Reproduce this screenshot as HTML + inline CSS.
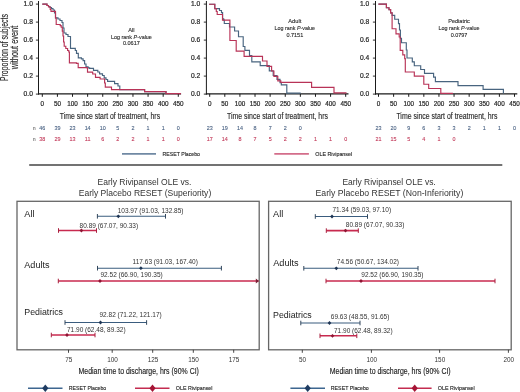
<!DOCTYPE html>
<html><head><meta charset="utf-8"><style>
html,body{margin:0;padding:0;background:#fff;}
svg{display:block;font-family:"Liberation Sans", sans-serif;filter:blur(0.3px);}
.b{stroke:#2a2a2a;stroke-width:0.22px;}
</style></head><body>
<svg width="520" height="392" viewBox="0 0 520 392">
<rect width="520" height="392" fill="#fff"/>
<line x1="38.5" y1="1" x2="38.5" y2="94.6" stroke="#1a1a1a" stroke-width="1"/>
<line x1="35.9" y1="4.1" x2="38.5" y2="4.1" stroke="#1a1a1a" stroke-width="0.9"/>
<text x="32.9" y="6.1" font-size="6.7" text-anchor="end" fill="#2a2a2a" class="b">1.0</text>
<line x1="35.9" y1="22.1" x2="38.5" y2="22.1" stroke="#1a1a1a" stroke-width="0.9"/>
<text x="32.9" y="24.1" font-size="6.7" text-anchor="end" fill="#2a2a2a" class="b">0.8</text>
<line x1="35.9" y1="40.1" x2="38.5" y2="40.1" stroke="#1a1a1a" stroke-width="0.9"/>
<text x="32.9" y="42.1" font-size="6.7" text-anchor="end" fill="#2a2a2a" class="b">0.6</text>
<line x1="35.9" y1="58.1" x2="38.5" y2="58.1" stroke="#1a1a1a" stroke-width="0.9"/>
<text x="32.9" y="60.1" font-size="6.7" text-anchor="end" fill="#2a2a2a" class="b">0.4</text>
<line x1="35.9" y1="76.1" x2="38.5" y2="76.1" stroke="#1a1a1a" stroke-width="0.9"/>
<text x="32.9" y="78.1" font-size="6.7" text-anchor="end" fill="#2a2a2a" class="b">0.2</text>
<line x1="35.9" y1="94.1" x2="38.5" y2="94.1" stroke="#1a1a1a" stroke-width="0.9"/>
<text x="32.9" y="96.1" font-size="6.7" text-anchor="end" fill="#2a2a2a" class="b">0.0</text>
<line x1="38.0" y1="93.9" x2="181.09000000000003" y2="93.9" stroke="#1a1a1a" stroke-width="1.2"/>
<line x1="42.3" y1="93.9" x2="42.3" y2="96.8" stroke="#1a1a1a" stroke-width="1"/>
<text x="42.3" y="105.6" font-size="6.9" text-anchor="middle" textLength="3.53" lengthAdjust="spacingAndGlyphs" fill="#2a2a2a" class="b">0</text>
<line x1="57.41" y1="93.9" x2="57.41" y2="96.8" stroke="#1a1a1a" stroke-width="1"/>
<text x="57.41" y="105.6" font-size="6.9" text-anchor="middle" textLength="7.06" lengthAdjust="spacingAndGlyphs" fill="#2a2a2a" class="b">50</text>
<line x1="72.52" y1="93.9" x2="72.52" y2="96.8" stroke="#1a1a1a" stroke-width="1"/>
<text x="72.52" y="105.6" font-size="6.9" text-anchor="middle" textLength="10.59" lengthAdjust="spacingAndGlyphs" fill="#2a2a2a" class="b">100</text>
<line x1="87.63" y1="93.9" x2="87.63" y2="96.8" stroke="#1a1a1a" stroke-width="1"/>
<text x="87.63" y="105.6" font-size="6.9" text-anchor="middle" textLength="10.59" lengthAdjust="spacingAndGlyphs" fill="#2a2a2a" class="b">150</text>
<line x1="102.74" y1="93.9" x2="102.74" y2="96.8" stroke="#1a1a1a" stroke-width="1"/>
<text x="102.74" y="105.6" font-size="6.9" text-anchor="middle" textLength="10.59" lengthAdjust="spacingAndGlyphs" fill="#2a2a2a" class="b">200</text>
<line x1="117.85" y1="93.9" x2="117.85" y2="96.8" stroke="#1a1a1a" stroke-width="1"/>
<text x="117.85" y="105.6" font-size="6.9" text-anchor="middle" textLength="10.59" lengthAdjust="spacingAndGlyphs" fill="#2a2a2a" class="b">250</text>
<line x1="132.96" y1="93.9" x2="132.96" y2="96.8" stroke="#1a1a1a" stroke-width="1"/>
<text x="132.96" y="105.6" font-size="6.9" text-anchor="middle" textLength="10.59" lengthAdjust="spacingAndGlyphs" fill="#2a2a2a" class="b">300</text>
<line x1="148.07" y1="93.9" x2="148.07" y2="96.8" stroke="#1a1a1a" stroke-width="1"/>
<text x="148.07" y="105.6" font-size="6.9" text-anchor="middle" textLength="10.59" lengthAdjust="spacingAndGlyphs" fill="#2a2a2a" class="b">350</text>
<line x1="163.18" y1="93.9" x2="163.18" y2="96.8" stroke="#1a1a1a" stroke-width="1"/>
<text x="163.18" y="105.6" font-size="6.9" text-anchor="middle" textLength="10.59" lengthAdjust="spacingAndGlyphs" fill="#2a2a2a" class="b">400</text>
<line x1="178.29" y1="93.9" x2="178.29" y2="96.8" stroke="#1a1a1a" stroke-width="1"/>
<text x="178.29" y="105.6" font-size="6.9" text-anchor="middle" textLength="10.59" lengthAdjust="spacingAndGlyphs" fill="#2a2a2a" class="b">450</text>
<text x="59.8" y="118.5" font-size="9.4" textLength="100.3" lengthAdjust="spacingAndGlyphs" fill="#2a2a2a" stroke="#2a2a2a" stroke-width="0.15">Time since start of treatment, hrs</text>
<text transform="translate(8.1,47.6) rotate(-90)" font-size="10.3" text-anchor="middle" fill="#2a2a2a" stroke="#2a2a2a" stroke-width="0.15" textLength="67" lengthAdjust="spacingAndGlyphs">Proportion of subjects</text>
<text transform="translate(18.3,47.5) rotate(-90)" font-size="10.3" text-anchor="middle" fill="#2a2a2a" stroke="#2a2a2a" stroke-width="0.15" textLength="43.5" lengthAdjust="spacingAndGlyphs">without event</text>
<path d="M42.3,4.1H47V5.5H48.5V6.5H50V7.5H51.5V8.5H53V10H54.5V13H55.5V17.9H58V19H60V20.5H62V22.5H63V28H64V33H66V34.5H68V36.5H70.5V48.4H75.3V50.5H76.5V53.3H78.3V57.9H81.4V58.8H83.1V60.6H84.6V64H86V66.9H88.1V67.8H89.6V68.3H93.5V70.4H97.8V72H99.6V73.8H102.5V75.5H104.2V77.9H106V79.5H107.6V81.3H114.6V83.6H118V86H119.8V89.6H144.6V91.6H166V93.6" fill="none" stroke="#48647f" stroke-width="1.15"/>
<path d="M42.3,4.1H47V5.5H48.5V7H50.2V9.5H51V11.4H55.5V18H56.2V24.5H60.2V25.6H61.2V27.2H62.3V31.1H63.0V36H63.6V42H64.2V46.2H65.8V48.5H67.6V50.5H68.8V52H69.4V62.8H76.5V63.3H78.2V67.6H87V67.9H87.5V72.1H92.7V74H95.5V77.3H100.1V79H104.6V83H105.3V87.1H111.5V89.6H144.6V91.6H166V93.6H181" fill="none" stroke="#b83357" stroke-width="1.15"/>
<text x="131.4" y="31.7" font-size="5.7" text-anchor="middle" fill="#2a2a2a" stroke="#2a2a2a" stroke-width="0.12">All</text>
<text x="131.4" y="38.5" font-size="5.7" text-anchor="middle" textLength="41" lengthAdjust="spacingAndGlyphs" fill="#2a2a2a" stroke="#2a2a2a" stroke-width="0.12">Log rank <tspan font-style="italic">P</tspan>-value</text>
<text x="131.4" y="45.3" font-size="5.7" text-anchor="middle" textLength="17" lengthAdjust="spacingAndGlyphs" fill="#2a2a2a" stroke="#2a2a2a" stroke-width="0.12">0.0617</text>
<text x="42.3" y="129.6" font-size="5.4" text-anchor="middle" fill="#465f80" stroke="#465f80" stroke-width="0.1">46</text>
<text x="57.41" y="129.6" font-size="5.4" text-anchor="middle" fill="#465f80" stroke="#465f80" stroke-width="0.1">39</text>
<text x="72.52" y="129.6" font-size="5.4" text-anchor="middle" fill="#465f80" stroke="#465f80" stroke-width="0.1">23</text>
<text x="87.63" y="129.6" font-size="5.4" text-anchor="middle" fill="#465f80" stroke="#465f80" stroke-width="0.1">14</text>
<text x="102.74" y="129.6" font-size="5.4" text-anchor="middle" fill="#465f80" stroke="#465f80" stroke-width="0.1">10</text>
<text x="117.85" y="129.6" font-size="5.4" text-anchor="middle" fill="#465f80" stroke="#465f80" stroke-width="0.1">5</text>
<text x="132.96" y="129.6" font-size="5.4" text-anchor="middle" fill="#465f80" stroke="#465f80" stroke-width="0.1">2</text>
<text x="148.07" y="129.6" font-size="5.4" text-anchor="middle" fill="#465f80" stroke="#465f80" stroke-width="0.1">1</text>
<text x="163.18" y="129.6" font-size="5.4" text-anchor="middle" fill="#465f80" stroke="#465f80" stroke-width="0.1">1</text>
<text x="178.29" y="129.6" font-size="5.4" text-anchor="middle" fill="#465f80" stroke="#465f80" stroke-width="0.1">0</text>
<text x="34.3" y="129.6" font-size="5.2" text-anchor="middle" fill="#444">n</text>
<text x="42.3" y="140.6" font-size="5.4" text-anchor="middle" fill="#c23a5a" stroke="#c23a5a" stroke-width="0.1">38</text>
<text x="57.41" y="140.6" font-size="5.4" text-anchor="middle" fill="#c23a5a" stroke="#c23a5a" stroke-width="0.1">29</text>
<text x="72.52" y="140.6" font-size="5.4" text-anchor="middle" fill="#c23a5a" stroke="#c23a5a" stroke-width="0.1">13</text>
<text x="87.63" y="140.6" font-size="5.4" text-anchor="middle" fill="#c23a5a" stroke="#c23a5a" stroke-width="0.1">11</text>
<text x="102.74" y="140.6" font-size="5.4" text-anchor="middle" fill="#c23a5a" stroke="#c23a5a" stroke-width="0.1">6</text>
<text x="117.85" y="140.6" font-size="5.4" text-anchor="middle" fill="#c23a5a" stroke="#c23a5a" stroke-width="0.1">2</text>
<text x="132.96" y="140.6" font-size="5.4" text-anchor="middle" fill="#c23a5a" stroke="#c23a5a" stroke-width="0.1">2</text>
<text x="148.07" y="140.6" font-size="5.4" text-anchor="middle" fill="#c23a5a" stroke="#c23a5a" stroke-width="0.1">1</text>
<text x="163.18" y="140.6" font-size="5.4" text-anchor="middle" fill="#c23a5a" stroke="#c23a5a" stroke-width="0.1">1</text>
<text x="178.29" y="140.6" font-size="5.4" text-anchor="middle" fill="#c23a5a" stroke="#c23a5a" stroke-width="0.1">0</text>
<text x="34.3" y="140.6" font-size="5.2" text-anchor="middle" fill="#444">n</text>
<line x1="206.4" y1="1" x2="206.4" y2="94.6" stroke="#1a1a1a" stroke-width="1"/>
<line x1="203.8" y1="4.1" x2="206.4" y2="4.1" stroke="#1a1a1a" stroke-width="0.9"/>
<text x="200.2" y="6.1" font-size="6.7" text-anchor="end" fill="#2a2a2a" class="b">1.0</text>
<line x1="203.8" y1="22.1" x2="206.4" y2="22.1" stroke="#1a1a1a" stroke-width="0.9"/>
<text x="200.2" y="24.1" font-size="6.7" text-anchor="end" fill="#2a2a2a" class="b">0.8</text>
<line x1="203.8" y1="40.1" x2="206.4" y2="40.1" stroke="#1a1a1a" stroke-width="0.9"/>
<text x="200.2" y="42.1" font-size="6.7" text-anchor="end" fill="#2a2a2a" class="b">0.6</text>
<line x1="203.8" y1="58.1" x2="206.4" y2="58.1" stroke="#1a1a1a" stroke-width="0.9"/>
<text x="200.2" y="60.1" font-size="6.7" text-anchor="end" fill="#2a2a2a" class="b">0.4</text>
<line x1="203.8" y1="76.1" x2="206.4" y2="76.1" stroke="#1a1a1a" stroke-width="0.9"/>
<text x="200.2" y="78.1" font-size="6.7" text-anchor="end" fill="#2a2a2a" class="b">0.2</text>
<line x1="203.8" y1="94.1" x2="206.4" y2="94.1" stroke="#1a1a1a" stroke-width="0.9"/>
<text x="200.2" y="96.1" font-size="6.7" text-anchor="end" fill="#2a2a2a" class="b">0.0</text>
<line x1="205.9" y1="93.9" x2="348.49" y2="93.9" stroke="#1a1a1a" stroke-width="1.2"/>
<line x1="209.7" y1="93.9" x2="209.7" y2="96.8" stroke="#1a1a1a" stroke-width="1"/>
<text x="209.7" y="105.6" font-size="6.9" text-anchor="middle" textLength="3.53" lengthAdjust="spacingAndGlyphs" fill="#2a2a2a" class="b">0</text>
<line x1="224.81" y1="93.9" x2="224.81" y2="96.8" stroke="#1a1a1a" stroke-width="1"/>
<text x="224.81" y="105.6" font-size="6.9" text-anchor="middle" textLength="7.06" lengthAdjust="spacingAndGlyphs" fill="#2a2a2a" class="b">50</text>
<line x1="239.92" y1="93.9" x2="239.92" y2="96.8" stroke="#1a1a1a" stroke-width="1"/>
<text x="239.92" y="105.6" font-size="6.9" text-anchor="middle" textLength="10.59" lengthAdjust="spacingAndGlyphs" fill="#2a2a2a" class="b">100</text>
<line x1="255.03" y1="93.9" x2="255.03" y2="96.8" stroke="#1a1a1a" stroke-width="1"/>
<text x="255.03" y="105.6" font-size="6.9" text-anchor="middle" textLength="10.59" lengthAdjust="spacingAndGlyphs" fill="#2a2a2a" class="b">150</text>
<line x1="270.14" y1="93.9" x2="270.14" y2="96.8" stroke="#1a1a1a" stroke-width="1"/>
<text x="270.14" y="105.6" font-size="6.9" text-anchor="middle" textLength="10.59" lengthAdjust="spacingAndGlyphs" fill="#2a2a2a" class="b">200</text>
<line x1="285.25" y1="93.9" x2="285.25" y2="96.8" stroke="#1a1a1a" stroke-width="1"/>
<text x="285.25" y="105.6" font-size="6.9" text-anchor="middle" textLength="10.59" lengthAdjust="spacingAndGlyphs" fill="#2a2a2a" class="b">250</text>
<line x1="300.36" y1="93.9" x2="300.36" y2="96.8" stroke="#1a1a1a" stroke-width="1"/>
<text x="300.36" y="105.6" font-size="6.9" text-anchor="middle" textLength="10.59" lengthAdjust="spacingAndGlyphs" fill="#2a2a2a" class="b">300</text>
<line x1="315.47" y1="93.9" x2="315.47" y2="96.8" stroke="#1a1a1a" stroke-width="1"/>
<text x="315.47" y="105.6" font-size="6.9" text-anchor="middle" textLength="10.59" lengthAdjust="spacingAndGlyphs" fill="#2a2a2a" class="b">350</text>
<line x1="330.58" y1="93.9" x2="330.58" y2="96.8" stroke="#1a1a1a" stroke-width="1"/>
<text x="330.58" y="105.6" font-size="6.9" text-anchor="middle" textLength="10.59" lengthAdjust="spacingAndGlyphs" fill="#2a2a2a" class="b">400</text>
<line x1="345.69" y1="93.9" x2="345.69" y2="96.8" stroke="#1a1a1a" stroke-width="1"/>
<text x="345.69" y="105.6" font-size="6.9" text-anchor="middle" textLength="10.59" lengthAdjust="spacingAndGlyphs" fill="#2a2a2a" class="b">450</text>
<text x="227" y="118.5" font-size="9.4" textLength="101" lengthAdjust="spacingAndGlyphs" fill="#2a2a2a" stroke="#2a2a2a" stroke-width="0.15">Time since start of treatment, hrs</text>
<path d="M209.1,4.2H214.8V8.6H219.5V10.5H221.5V12.6H222.6V18.9H223.7V20.1H224.3V23.5H229.5V27H234.6V31H238.5V36.7H243.2V46.5H244.9V50.3H249.5V55.6H251.8V61.8H260.2V65.6H269.3V70.9H273.2V75.5H277V79.3H280V82.6H281.3V84.8H286.8V93.1H300.7" fill="none" stroke="#48647f" stroke-width="1.15"/>
<path d="M209.1,4.2H214.8V8.6H216.3V11.5H217.2V14.5H222.5V20.1H229.9V40.5H236.2V51.1H244.1V56.4H262.5V61H267V66.3H271.6V71H273.9V76.3H277.8V80.9H280.8V82.4H311.6V87.3H334V92.9H346.5" fill="none" stroke="#b83357" stroke-width="1.15"/>
<text x="294.8" y="22.9" font-size="5.7" text-anchor="middle" fill="#2a2a2a" stroke="#2a2a2a" stroke-width="0.12">Adult</text>
<text x="294.8" y="29.7" font-size="5.7" text-anchor="middle" textLength="40.6" lengthAdjust="spacingAndGlyphs" fill="#2a2a2a" stroke="#2a2a2a" stroke-width="0.12">Log rank <tspan font-style="italic">P</tspan>-value</text>
<text x="294.8" y="36.5" font-size="5.7" text-anchor="middle" textLength="16.8" lengthAdjust="spacingAndGlyphs" fill="#2a2a2a" stroke="#2a2a2a" stroke-width="0.12">0.7151</text>
<text x="209.7" y="129.6" font-size="5.4" text-anchor="middle" fill="#465f80" stroke="#465f80" stroke-width="0.1">23</text>
<text x="224.81" y="129.6" font-size="5.4" text-anchor="middle" fill="#465f80" stroke="#465f80" stroke-width="0.1">19</text>
<text x="239.92" y="129.6" font-size="5.4" text-anchor="middle" fill="#465f80" stroke="#465f80" stroke-width="0.1">14</text>
<text x="255.03" y="129.6" font-size="5.4" text-anchor="middle" fill="#465f80" stroke="#465f80" stroke-width="0.1">8</text>
<text x="270.14" y="129.6" font-size="5.4" text-anchor="middle" fill="#465f80" stroke="#465f80" stroke-width="0.1">7</text>
<text x="285.25" y="129.6" font-size="5.4" text-anchor="middle" fill="#465f80" stroke="#465f80" stroke-width="0.1">2</text>
<text x="300.36" y="129.6" font-size="5.4" text-anchor="middle" fill="#465f80" stroke="#465f80" stroke-width="0.1">0</text>
<text x="209.7" y="140.6" font-size="5.4" text-anchor="middle" fill="#c23a5a" stroke="#c23a5a" stroke-width="0.1">17</text>
<text x="224.81" y="140.6" font-size="5.4" text-anchor="middle" fill="#c23a5a" stroke="#c23a5a" stroke-width="0.1">14</text>
<text x="239.92" y="140.6" font-size="5.4" text-anchor="middle" fill="#c23a5a" stroke="#c23a5a" stroke-width="0.1">8</text>
<text x="255.03" y="140.6" font-size="5.4" text-anchor="middle" fill="#c23a5a" stroke="#c23a5a" stroke-width="0.1">7</text>
<text x="270.14" y="140.6" font-size="5.4" text-anchor="middle" fill="#c23a5a" stroke="#c23a5a" stroke-width="0.1">5</text>
<text x="285.25" y="140.6" font-size="5.4" text-anchor="middle" fill="#c23a5a" stroke="#c23a5a" stroke-width="0.1">2</text>
<text x="300.36" y="140.6" font-size="5.4" text-anchor="middle" fill="#c23a5a" stroke="#c23a5a" stroke-width="0.1">2</text>
<text x="315.47" y="140.6" font-size="5.4" text-anchor="middle" fill="#c23a5a" stroke="#c23a5a" stroke-width="0.1">1</text>
<text x="330.58" y="140.6" font-size="5.4" text-anchor="middle" fill="#c23a5a" stroke="#c23a5a" stroke-width="0.1">1</text>
<text x="345.69" y="140.6" font-size="5.4" text-anchor="middle" fill="#c23a5a" stroke="#c23a5a" stroke-width="0.1">0</text>
<line x1="375.5" y1="1" x2="375.5" y2="94.6" stroke="#1a1a1a" stroke-width="1"/>
<line x1="372.9" y1="4.1" x2="375.5" y2="4.1" stroke="#1a1a1a" stroke-width="0.9"/>
<text x="369.2" y="6.1" font-size="6.7" text-anchor="end" fill="#2a2a2a" class="b">1.0</text>
<line x1="372.9" y1="22.1" x2="375.5" y2="22.1" stroke="#1a1a1a" stroke-width="0.9"/>
<text x="369.2" y="24.1" font-size="6.7" text-anchor="end" fill="#2a2a2a" class="b">0.8</text>
<line x1="372.9" y1="40.1" x2="375.5" y2="40.1" stroke="#1a1a1a" stroke-width="0.9"/>
<text x="369.2" y="42.1" font-size="6.7" text-anchor="end" fill="#2a2a2a" class="b">0.6</text>
<line x1="372.9" y1="58.1" x2="375.5" y2="58.1" stroke="#1a1a1a" stroke-width="0.9"/>
<text x="369.2" y="60.1" font-size="6.7" text-anchor="end" fill="#2a2a2a" class="b">0.4</text>
<line x1="372.9" y1="76.1" x2="375.5" y2="76.1" stroke="#1a1a1a" stroke-width="0.9"/>
<text x="369.2" y="78.1" font-size="6.7" text-anchor="end" fill="#2a2a2a" class="b">0.2</text>
<line x1="372.9" y1="94.1" x2="375.5" y2="94.1" stroke="#1a1a1a" stroke-width="0.9"/>
<text x="369.2" y="96.1" font-size="6.7" text-anchor="end" fill="#2a2a2a" class="b">0.0</text>
<line x1="375.0" y1="93.9" x2="517.29" y2="93.9" stroke="#1a1a1a" stroke-width="1.2"/>
<line x1="378.5" y1="93.9" x2="378.5" y2="96.8" stroke="#1a1a1a" stroke-width="1"/>
<text x="378.5" y="105.6" font-size="6.9" text-anchor="middle" textLength="3.53" lengthAdjust="spacingAndGlyphs" fill="#2a2a2a" class="b">0</text>
<line x1="393.61" y1="93.9" x2="393.61" y2="96.8" stroke="#1a1a1a" stroke-width="1"/>
<text x="393.61" y="105.6" font-size="6.9" text-anchor="middle" textLength="7.06" lengthAdjust="spacingAndGlyphs" fill="#2a2a2a" class="b">50</text>
<line x1="408.72" y1="93.9" x2="408.72" y2="96.8" stroke="#1a1a1a" stroke-width="1"/>
<text x="408.72" y="105.6" font-size="6.9" text-anchor="middle" textLength="10.59" lengthAdjust="spacingAndGlyphs" fill="#2a2a2a" class="b">100</text>
<line x1="423.83" y1="93.9" x2="423.83" y2="96.8" stroke="#1a1a1a" stroke-width="1"/>
<text x="423.83" y="105.6" font-size="6.9" text-anchor="middle" textLength="10.59" lengthAdjust="spacingAndGlyphs" fill="#2a2a2a" class="b">150</text>
<line x1="438.94" y1="93.9" x2="438.94" y2="96.8" stroke="#1a1a1a" stroke-width="1"/>
<text x="438.94" y="105.6" font-size="6.9" text-anchor="middle" textLength="10.59" lengthAdjust="spacingAndGlyphs" fill="#2a2a2a" class="b">200</text>
<line x1="454.05" y1="93.9" x2="454.05" y2="96.8" stroke="#1a1a1a" stroke-width="1"/>
<text x="454.05" y="105.6" font-size="6.9" text-anchor="middle" textLength="10.59" lengthAdjust="spacingAndGlyphs" fill="#2a2a2a" class="b">250</text>
<line x1="469.16" y1="93.9" x2="469.16" y2="96.8" stroke="#1a1a1a" stroke-width="1"/>
<text x="469.16" y="105.6" font-size="6.9" text-anchor="middle" textLength="10.59" lengthAdjust="spacingAndGlyphs" fill="#2a2a2a" class="b">300</text>
<line x1="484.27" y1="93.9" x2="484.27" y2="96.8" stroke="#1a1a1a" stroke-width="1"/>
<text x="484.27" y="105.6" font-size="6.9" text-anchor="middle" textLength="10.59" lengthAdjust="spacingAndGlyphs" fill="#2a2a2a" class="b">350</text>
<line x1="499.38" y1="93.9" x2="499.38" y2="96.8" stroke="#1a1a1a" stroke-width="1"/>
<text x="499.38" y="105.6" font-size="6.9" text-anchor="middle" textLength="10.59" lengthAdjust="spacingAndGlyphs" fill="#2a2a2a" class="b">400</text>
<line x1="514.49" y1="93.9" x2="514.49" y2="96.8" stroke="#1a1a1a" stroke-width="1"/>
<text x="514.49" y="105.6" font-size="6.9" text-anchor="middle" textLength="10.59" lengthAdjust="spacingAndGlyphs" fill="#2a2a2a" class="b">450</text>
<text x="396.4" y="118.5" font-size="9.4" textLength="101.0" lengthAdjust="spacingAndGlyphs" fill="#2a2a2a" stroke="#2a2a2a" stroke-width="0.15">Time since start of treatment, hrs</text>
<path d="M378.4,4.1H386.4V7.7H389V9.6H390.6V12.8H392.1V15.3H394.7V19.2H398.5V23.6H399.5V30H400.4V38.3H401.5V42.7H406.3V50H407V58H412.3V61.8H414.3V65.7H420.7V69.5H424.5V73.3H433.6V77.1H435.4V81.6H458V85.6H483.1V89.4H503.4V93.6" fill="none" stroke="#48647f" stroke-width="1.15"/>
<path d="M378.4,4.1H386.4V7.7H389V9.6H390.6V12.8H392.1V28.7H396V33.8H399.2V37H400.2V50.3H402.8V54.8H404.7V58.6H405.3V72H414.3V76.1H423.8V84.2H428.7V88.5H440.8V93.4H452.9" fill="none" stroke="#b83357" stroke-width="1.15"/>
<text x="459" y="22.9" font-size="5.7" text-anchor="middle" textLength="21.6" lengthAdjust="spacingAndGlyphs" fill="#2a2a2a" stroke="#2a2a2a" stroke-width="0.12">Pediatric</text>
<text x="459" y="29.7" font-size="5.7" text-anchor="middle" textLength="41.1" lengthAdjust="spacingAndGlyphs" fill="#2a2a2a" stroke="#2a2a2a" stroke-width="0.12">Log rank <tspan font-style="italic">P</tspan>-value</text>
<text x="459" y="36.5" font-size="5.7" text-anchor="middle" textLength="16.7" lengthAdjust="spacingAndGlyphs" fill="#2a2a2a" stroke="#2a2a2a" stroke-width="0.12">0.0797</text>
<text x="378.5" y="129.6" font-size="5.4" text-anchor="middle" fill="#465f80" stroke="#465f80" stroke-width="0.1">23</text>
<text x="393.61" y="129.6" font-size="5.4" text-anchor="middle" fill="#465f80" stroke="#465f80" stroke-width="0.1">20</text>
<text x="408.72" y="129.6" font-size="5.4" text-anchor="middle" fill="#465f80" stroke="#465f80" stroke-width="0.1">9</text>
<text x="423.83" y="129.6" font-size="5.4" text-anchor="middle" fill="#465f80" stroke="#465f80" stroke-width="0.1">6</text>
<text x="438.94" y="129.6" font-size="5.4" text-anchor="middle" fill="#465f80" stroke="#465f80" stroke-width="0.1">3</text>
<text x="454.05" y="129.6" font-size="5.4" text-anchor="middle" fill="#465f80" stroke="#465f80" stroke-width="0.1">3</text>
<text x="469.16" y="129.6" font-size="5.4" text-anchor="middle" fill="#465f80" stroke="#465f80" stroke-width="0.1">2</text>
<text x="484.27" y="129.6" font-size="5.4" text-anchor="middle" fill="#465f80" stroke="#465f80" stroke-width="0.1">1</text>
<text x="499.38" y="129.6" font-size="5.4" text-anchor="middle" fill="#465f80" stroke="#465f80" stroke-width="0.1">1</text>
<text x="514.49" y="129.6" font-size="5.4" text-anchor="middle" fill="#465f80" stroke="#465f80" stroke-width="0.1">0</text>
<text x="378.5" y="140.6" font-size="5.4" text-anchor="middle" fill="#c23a5a" stroke="#c23a5a" stroke-width="0.1">21</text>
<text x="393.61" y="140.6" font-size="5.4" text-anchor="middle" fill="#c23a5a" stroke="#c23a5a" stroke-width="0.1">15</text>
<text x="408.72" y="140.6" font-size="5.4" text-anchor="middle" fill="#c23a5a" stroke="#c23a5a" stroke-width="0.1">5</text>
<text x="423.83" y="140.6" font-size="5.4" text-anchor="middle" fill="#c23a5a" stroke="#c23a5a" stroke-width="0.1">4</text>
<text x="438.94" y="140.6" font-size="5.4" text-anchor="middle" fill="#c23a5a" stroke="#c23a5a" stroke-width="0.1">1</text>
<text x="454.05" y="140.6" font-size="5.4" text-anchor="middle" fill="#c23a5a" stroke="#c23a5a" stroke-width="0.1">0</text>
<line x1="122" y1="153.9" x2="156" y2="153.9" stroke="#7089a3" stroke-width="1.8"/>
<text x="162.5" y="155.8" font-size="5.9" textLength="37.5" lengthAdjust="spacingAndGlyphs" fill="#222" stroke="#222" stroke-width="0.12">RESET Placebo</text>
<line x1="274.3" y1="153.9" x2="308.9" y2="153.9" stroke="#d36d8a" stroke-width="1.8"/>
<text x="315.3" y="155.8" font-size="5.9" textLength="36.9" lengthAdjust="spacingAndGlyphs" fill="#222" stroke="#222" stroke-width="0.12">OLE Rivipansel</text>
<line x1="29.2" y1="165.1" x2="502.3" y2="165.1" stroke="#737373" stroke-width="2"/>
<rect x="17" y="201.3" width="242.2" height="148.5" fill="none" stroke="#666" stroke-width="1.3"/>
<text x="144.5" y="184.6" font-size="8.6" text-anchor="middle" textLength="94" lengthAdjust="spacingAndGlyphs" fill="#333">Early Rivipansel OLE vs.</text>
<text x="145" y="196" font-size="8.6" text-anchor="middle" textLength="132.5" lengthAdjust="spacingAndGlyphs" fill="#333">Early Placebo RESET (Superiority)</text>
<text x="24.3" y="217.1" font-size="9.2" fill="#222">All</text>
<text x="24.3" y="268.2" font-size="9.2" textLength="25.2" lengthAdjust="spacingAndGlyphs" fill="#222">Adults</text>
<text x="24.3" y="315.2" font-size="9.2" textLength="38.7" lengthAdjust="spacingAndGlyphs" fill="#222">Pediatrics</text>
<line x1="97.4" y1="216.3" x2="165.5" y2="216.3" stroke="#3a5c7e" stroke-width="1.1"/>
<line x1="97.4" y1="214.0" x2="97.4" y2="218.60000000000002" stroke="#33475c" stroke-width="1"/>
<line x1="165.5" y1="214.0" x2="165.5" y2="218.60000000000002" stroke="#33475c" stroke-width="1"/>
<path d="M118.3,214.4L120.2,216.3L118.3,218.20000000000002L116.39999999999999,216.3Z" fill="#1e3554"/>
<text x="117.7" y="213.4" font-size="6.5" fill="#333">103.97 (91.03, 132.85)</text>
<line x1="58.5" y1="230.5" x2="96.5" y2="230.5" stroke="#c82a4f" stroke-width="1.6"/>
<line x1="58.5" y1="228.2" x2="58.5" y2="232.8" stroke="#a8203f" stroke-width="1"/>
<line x1="96.5" y1="228.2" x2="96.5" y2="232.8" stroke="#a8203f" stroke-width="1"/>
<path d="M81.4,228.6L83.30000000000001,230.5L81.4,232.4L79.5,230.5Z" fill="#8e1533"/>
<text x="79.6" y="227.9" font-size="6.5" fill="#333">80.89 (67.07, 90.33)</text>
<line x1="97.5" y1="268.2" x2="221.4" y2="268.2" stroke="#3a5c7e" stroke-width="1.1"/>
<line x1="97.5" y1="265.9" x2="97.5" y2="270.5" stroke="#33475c" stroke-width="1"/>
<line x1="221.4" y1="265.9" x2="221.4" y2="270.5" stroke="#33475c" stroke-width="1"/>
<path d="M140.9,266.3L142.8,268.2L140.9,270.09999999999997L139.0,268.2Z" fill="#1e3554"/>
<text x="132.6" y="263.6" font-size="6.5" fill="#333">117.63 (91.03, 167.40)</text>
<line x1="58.3" y1="281" x2="258.6" y2="281" stroke="#c82a4f" stroke-width="1.6"/>
<line x1="58.3" y1="278.7" x2="58.3" y2="283.3" stroke="#a8203f" stroke-width="1"/>
<path d="M100,279.1L101.9,281L100,282.9L98.1,281Z" fill="#8e1533"/>
<path d="M255.8,278.6L259,281L255.8,283.4Z" fill="#7a2036"/>
<text x="100.5" y="277.4" font-size="6.5" fill="#333">92.52 (66.90, 190.35)</text>
<line x1="65" y1="322.5" x2="146.6" y2="322.5" stroke="#3a5c7e" stroke-width="1.1"/>
<line x1="65" y1="320.2" x2="65" y2="324.8" stroke="#33475c" stroke-width="1"/>
<line x1="146.6" y1="320.2" x2="146.6" y2="324.8" stroke="#33475c" stroke-width="1"/>
<path d="M100.5,320.6L102.4,322.5L100.5,324.4L98.6,322.5Z" fill="#1e3554"/>
<text x="99.5" y="317.4" font-size="6.5" fill="#333">92.82 (71.22, 121.17)</text>
<line x1="51.3" y1="335" x2="95" y2="335" stroke="#c82a4f" stroke-width="1.6"/>
<line x1="51.3" y1="332.7" x2="51.3" y2="337.3" stroke="#a8203f" stroke-width="1"/>
<line x1="95" y1="332.7" x2="95" y2="337.3" stroke="#a8203f" stroke-width="1"/>
<path d="M67,333.1L68.9,335L67,336.9L65.1,335Z" fill="#8e1533"/>
<text x="67" y="332.4" font-size="6.5" fill="#333">71.90 (62.48, 89.32)</text>
<line x1="68.5" y1="349.8" x2="68.5" y2="352.8" stroke="#333" stroke-width="0.9"/>
<text x="68.8" y="361.8" font-size="7.0" text-anchor="middle" textLength="7.1" lengthAdjust="spacingAndGlyphs" fill="#333">75</text>
<line x1="112.2" y1="349.8" x2="112.2" y2="352.8" stroke="#333" stroke-width="0.9"/>
<text x="112.5" y="361.8" font-size="7.0" text-anchor="middle" textLength="10.65" lengthAdjust="spacingAndGlyphs" fill="#333">100</text>
<line x1="152.7" y1="349.8" x2="152.7" y2="352.8" stroke="#333" stroke-width="0.9"/>
<text x="153.0" y="361.8" font-size="7.0" text-anchor="middle" textLength="10.65" lengthAdjust="spacingAndGlyphs" fill="#333">125</text>
<line x1="193.3" y1="349.8" x2="193.3" y2="352.8" stroke="#333" stroke-width="0.9"/>
<text x="193.60000000000002" y="361.8" font-size="7.0" text-anchor="middle" textLength="10.65" lengthAdjust="spacingAndGlyphs" fill="#333">150</text>
<line x1="233.7" y1="349.8" x2="233.7" y2="352.8" stroke="#333" stroke-width="0.9"/>
<text x="234.0" y="361.8" font-size="7.0" text-anchor="middle" textLength="10.65" lengthAdjust="spacingAndGlyphs" fill="#333">175</text>
<text x="78.5" y="373.9" font-size="8.8" textLength="120.4" lengthAdjust="spacingAndGlyphs" fill="#222" stroke="#222" stroke-width="0.15">Median time to discharge, hrs (90% CI)</text>
<rect x="268.6" y="201.3" width="242.6" height="148.5" fill="none" stroke="#666" stroke-width="1.3"/>
<text x="389.1" y="184.6" font-size="8.6" text-anchor="middle" textLength="93.3" lengthAdjust="spacingAndGlyphs" fill="#333">Early Rivipansel OLE vs.</text>
<text x="389.4" y="196" font-size="8.6" text-anchor="middle" textLength="147.8" lengthAdjust="spacingAndGlyphs" fill="#333">Early Placebo RESET (Non-Inferiority)</text>
<text x="273" y="217.1" font-size="9.2" fill="#222">All</text>
<text x="273.2" y="265.8" font-size="9.2" textLength="25.5" lengthAdjust="spacingAndGlyphs" fill="#222">Adults</text>
<text x="273" y="317.7" font-size="9.2" textLength="38.7" lengthAdjust="spacingAndGlyphs" fill="#222">Pediatrics</text>
<line x1="315.3" y1="216.5" x2="367.5" y2="216.5" stroke="#3a5c7e" stroke-width="1.1"/>
<line x1="315.3" y1="214.2" x2="315.3" y2="218.8" stroke="#33475c" stroke-width="1"/>
<line x1="367.5" y1="214.2" x2="367.5" y2="218.8" stroke="#33475c" stroke-width="1"/>
<path d="M332,214.6L333.9,216.5L332,218.4L330.1,216.5Z" fill="#1e3554"/>
<text x="332.5" y="211.9" font-size="6.5" fill="#333">71.34 (59.03, 97.10)</text>
<line x1="326.3" y1="230.6" x2="358.3" y2="230.6" stroke="#c82a4f" stroke-width="1.6"/>
<line x1="326.3" y1="228.29999999999998" x2="326.3" y2="232.9" stroke="#a8203f" stroke-width="1"/>
<line x1="358.3" y1="228.29999999999998" x2="358.3" y2="232.9" stroke="#a8203f" stroke-width="1"/>
<path d="M345.5,228.7L347.4,230.6L345.5,232.5L343.6,230.6Z" fill="#8e1533"/>
<text x="345.8" y="226.9" font-size="6.5" fill="#333">80.89 (67.07, 90.33)</text>
<line x1="303.8" y1="268.3" x2="418" y2="268.3" stroke="#3a5c7e" stroke-width="1.1"/>
<line x1="303.8" y1="266.0" x2="303.8" y2="270.6" stroke="#33475c" stroke-width="1"/>
<line x1="418" y1="266.0" x2="418" y2="270.6" stroke="#33475c" stroke-width="1"/>
<path d="M336.3,266.40000000000003L338.2,268.3L336.3,270.2L334.40000000000003,268.3Z" fill="#1e3554"/>
<text x="336.8" y="264.4" font-size="6.5" fill="#333">74.56 (50.67, 134.02)</text>
<line x1="326" y1="281" x2="495" y2="281" stroke="#c82a4f" stroke-width="1.6"/>
<line x1="326" y1="278.7" x2="326" y2="283.3" stroke="#a8203f" stroke-width="1"/>
<line x1="495" y1="278.7" x2="495" y2="283.3" stroke="#a8203f" stroke-width="1"/>
<path d="M361,279.1L362.9,281L361,282.9L359.1,281Z" fill="#8e1533"/>
<text x="361.3" y="277.4" font-size="6.5" fill="#333">92.52 (66.90, 190.35)</text>
<line x1="300.8" y1="323" x2="360" y2="323" stroke="#3a5c7e" stroke-width="1.1"/>
<line x1="300.8" y1="320.7" x2="300.8" y2="325.3" stroke="#33475c" stroke-width="1"/>
<line x1="360" y1="320.7" x2="360" y2="325.3" stroke="#33475c" stroke-width="1"/>
<path d="M329.5,321.1L331.4,323L329.5,324.9L327.6,323Z" fill="#1e3554"/>
<text x="330.8" y="319.4" font-size="6.5" fill="#333">69.63 (48.55, 91.65)</text>
<line x1="320" y1="335.8" x2="356.8" y2="335.8" stroke="#c82a4f" stroke-width="1.6"/>
<line x1="320" y1="333.5" x2="320" y2="338.1" stroke="#a8203f" stroke-width="1"/>
<line x1="356.8" y1="333.5" x2="356.8" y2="338.1" stroke="#a8203f" stroke-width="1"/>
<path d="M332.5,333.90000000000003L334.4,335.8L332.5,337.7L330.6,335.8Z" fill="#8e1533"/>
<text x="334" y="332.9" font-size="6.5" fill="#333">71.90 (62.48, 89.32)</text>
<line x1="302.3" y1="349.8" x2="302.3" y2="352.8" stroke="#333" stroke-width="0.9"/>
<text x="302.6" y="361.8" font-size="7.0" text-anchor="middle" textLength="7.1" lengthAdjust="spacingAndGlyphs" fill="#333">50</text>
<line x1="371.4" y1="349.8" x2="371.4" y2="352.8" stroke="#333" stroke-width="0.9"/>
<text x="371.7" y="361.8" font-size="7.0" text-anchor="middle" textLength="10.65" lengthAdjust="spacingAndGlyphs" fill="#333">100</text>
<line x1="439.6" y1="349.8" x2="439.6" y2="352.8" stroke="#333" stroke-width="0.9"/>
<text x="439.90000000000003" y="361.8" font-size="7.0" text-anchor="middle" textLength="10.65" lengthAdjust="spacingAndGlyphs" fill="#333">150</text>
<line x1="508.4" y1="349.8" x2="508.4" y2="352.8" stroke="#333" stroke-width="0.9"/>
<text x="508.7" y="361.8" font-size="7.0" text-anchor="middle" textLength="10.65" lengthAdjust="spacingAndGlyphs" fill="#333">200</text>
<text x="329.8" y="373.9" font-size="8.8" textLength="120.9" lengthAdjust="spacingAndGlyphs" fill="#222" stroke="#222" stroke-width="0.15">Median time to discharge, hrs (90% CI)</text>
<line x1="28" y1="388.2" x2="62.5" y2="388.2" stroke="#3d6690" stroke-width="1.4"/>
<path d="M45.3,384.4L48.4,388.2L45.3,392.0L42.199999999999996,388.2Z" fill="#1f3c62"/>
<text x="68.8" y="389.8" font-size="5.9" textLength="37.4" lengthAdjust="spacingAndGlyphs" fill="#222" stroke="#222" stroke-width="0.12">RESET Placebo</text>
<line x1="135" y1="388.2" x2="169.5" y2="388.2" stroke="#c42c50" stroke-width="1.4"/>
<path d="M152.5,384.4L155.6,388.2L152.5,392.0L149.4,388.2Z" fill="#a51535"/>
<text x="175.8" y="389.8" font-size="5.9" textLength="36.7" lengthAdjust="spacingAndGlyphs" fill="#222" stroke="#222" stroke-width="0.12">OLE Rivipansel</text>
<line x1="290.4" y1="388.2" x2="325" y2="388.2" stroke="#3d6690" stroke-width="1.4"/>
<path d="M307.7,384.4L310.8,388.2L307.7,392.0L304.59999999999997,388.2Z" fill="#1f3c62"/>
<text x="330.8" y="389.8" font-size="5.9" textLength="38" lengthAdjust="spacingAndGlyphs" fill="#222" stroke="#222" stroke-width="0.12">RESET Placebo</text>
<line x1="398" y1="388.2" x2="431.6" y2="388.2" stroke="#c42c50" stroke-width="1.4"/>
<path d="M414.7,384.4L417.8,388.2L414.7,392.0L411.59999999999997,388.2Z" fill="#a51535"/>
<text x="437.8" y="389.8" font-size="5.9" textLength="37" lengthAdjust="spacingAndGlyphs" fill="#222" stroke="#222" stroke-width="0.12">OLE Rivipansel</text>
</svg></body></html>
